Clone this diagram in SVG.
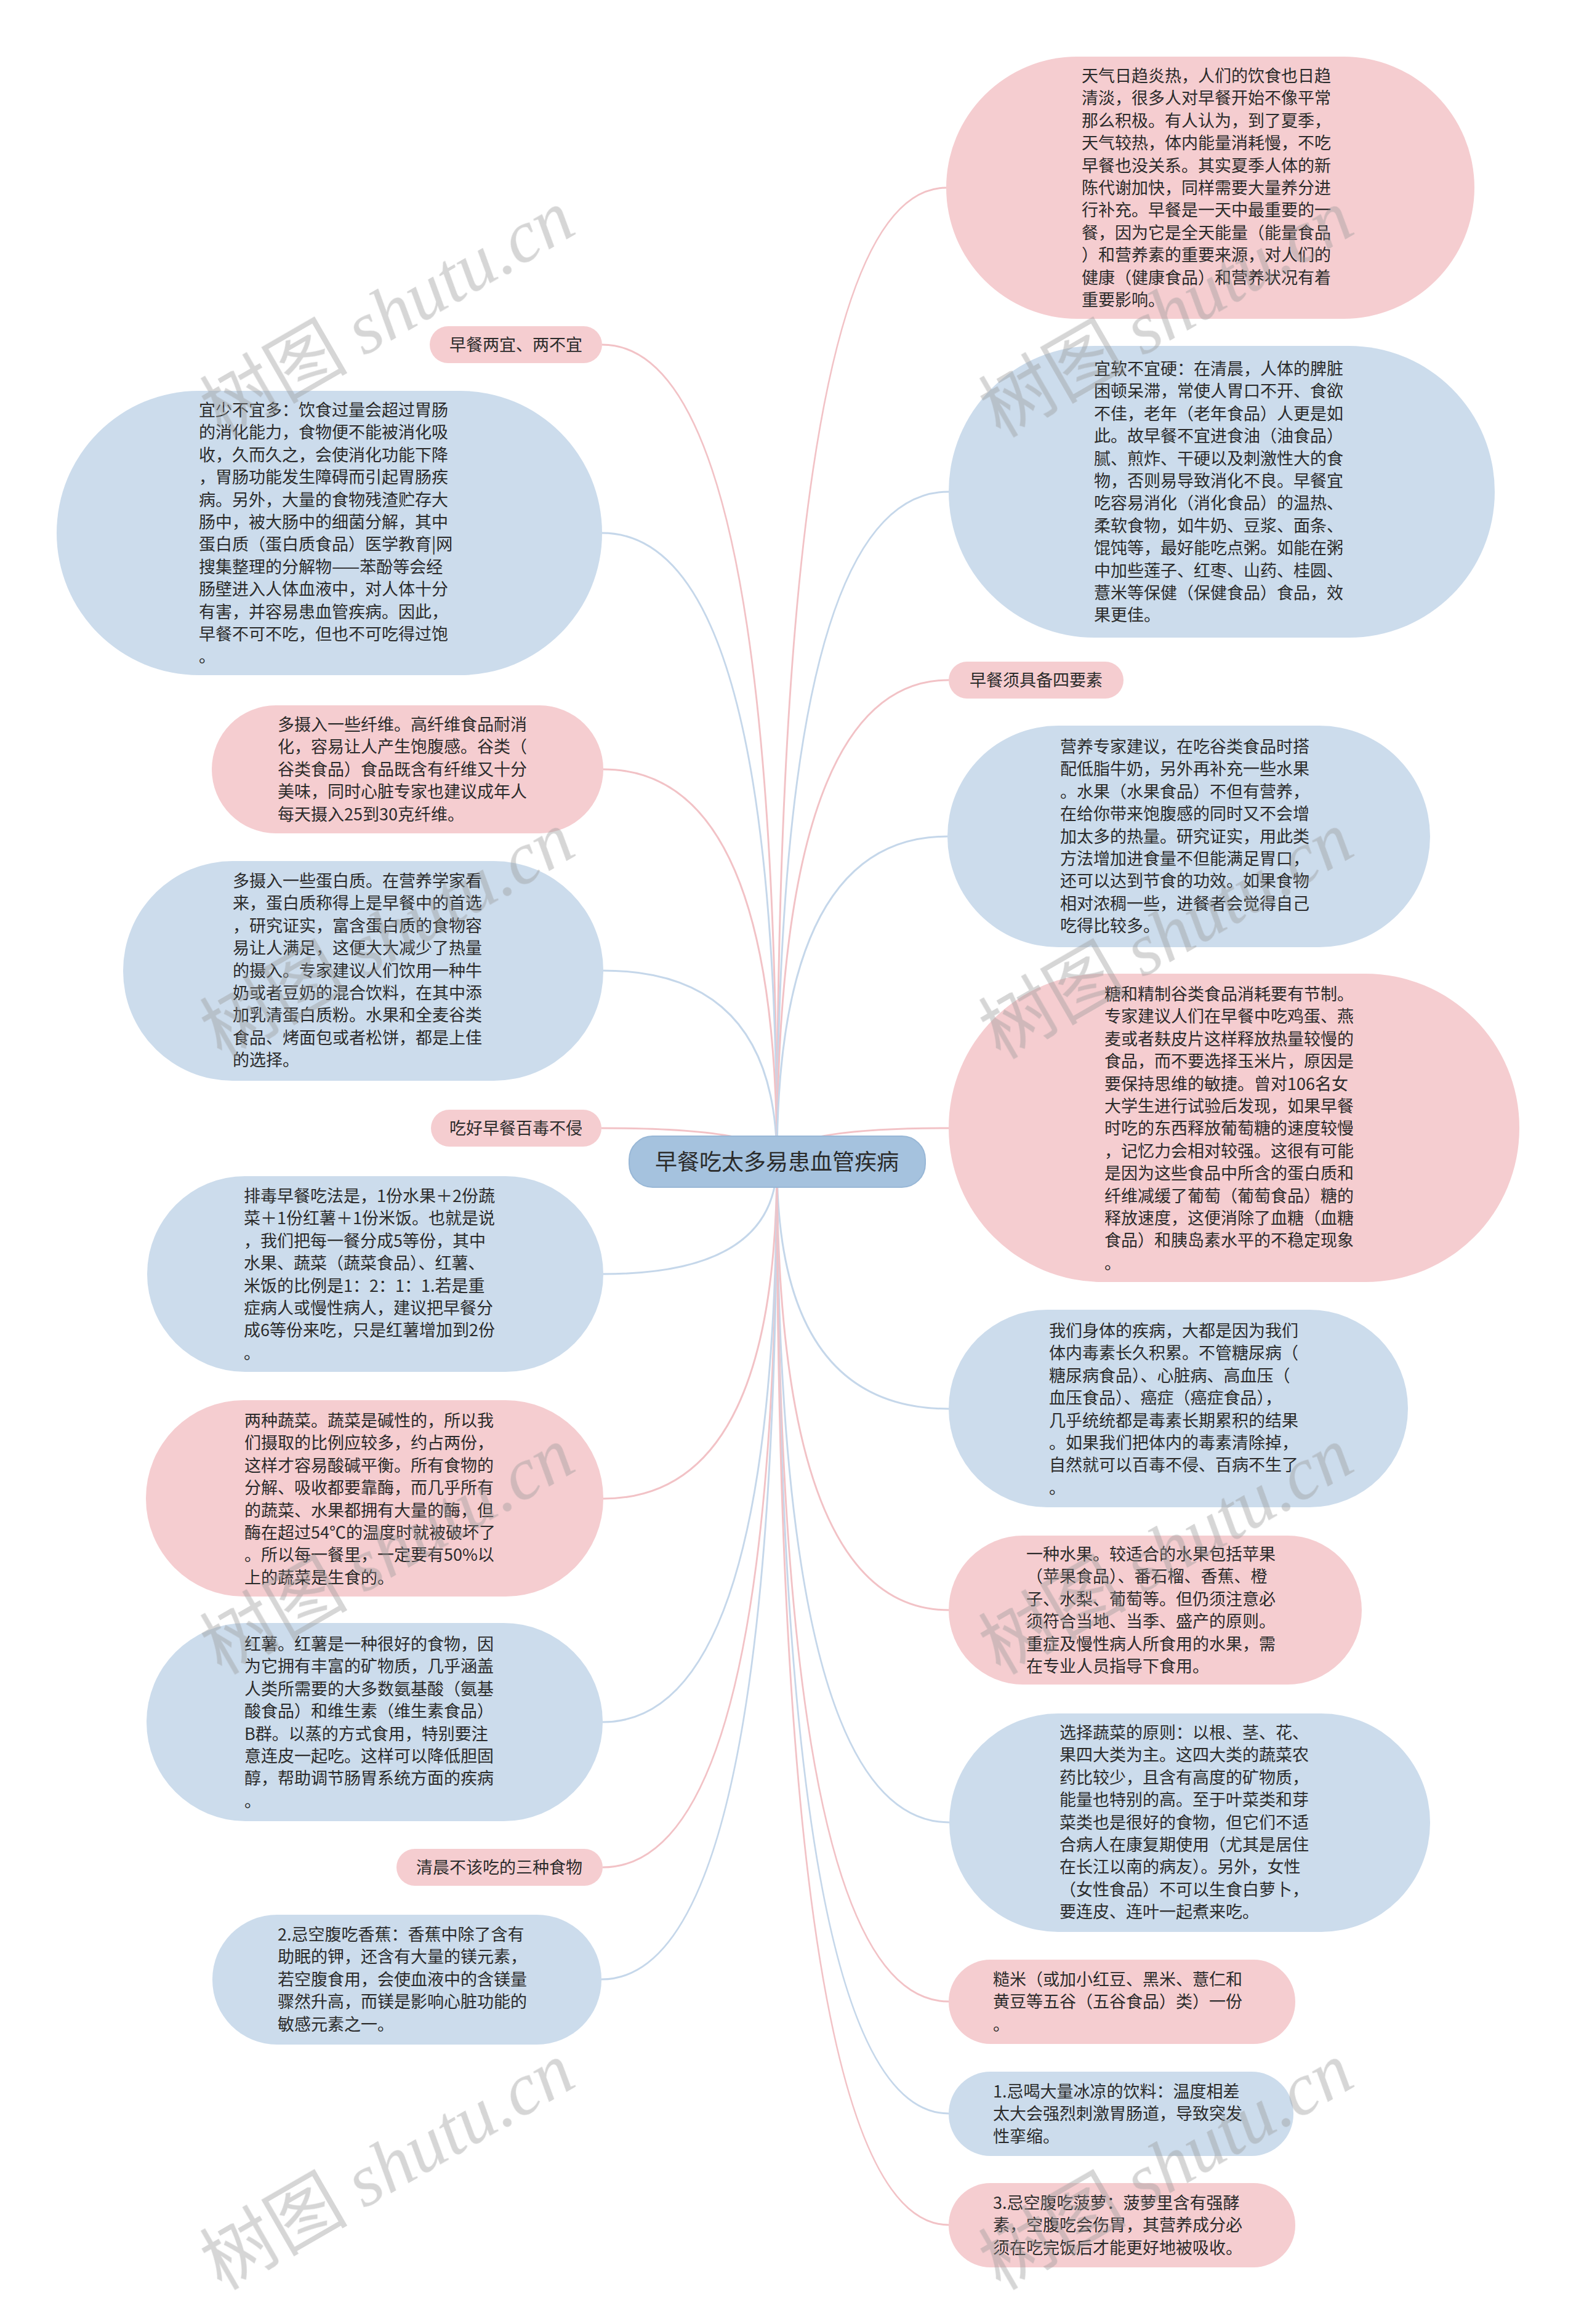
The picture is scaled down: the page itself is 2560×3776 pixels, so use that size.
<svg xmlns="http://www.w3.org/2000/svg" width="2560" height="3776" viewBox="0 0 2560 3776">
<style>
.t{font-family:"Noto Sans CJK SC","Noto Sans",sans-serif;font-size:27px;fill:#2b2b2b}
.lab{text-anchor:middle}
.pk{fill:#f5cdd0}
.bl{fill:#ccdcec}
.cp{fill:none;stroke:#f2c2c6;stroke-width:3}
.cb{fill:none;stroke:#c5d7ea;stroke-width:3}
.wm{font-size:120px;fill:#9a9a9a;opacity:0.4}
.wmc{font-family:"Noto Sans CJK SC",sans-serif}
.wml{font-family:"Liberation Serif",serif;font-style:italic}
</style>
<rect width="2560" height="3776" fill="#ffffff"/>
<g id="connectors">
<path class="cp" d="M1262,1888 Q1262,560 978,560"/>
<path class="cb" d="M1262,1888 Q1262,866 978,866"/>
<path class="cp" d="M1262,1888 Q1262,1250 980,1250"/>
<path class="cb" d="M1262,1888 Q1262,1577 980,1577"/>
<path class="cp" d="M1262,1888 Q1262,1833 977,1833"/>
<path class="cb" d="M1262,1888 Q1262,2070 980,2070"/>
<path class="cp" d="M1262,1888 Q1262,2435 980,2435"/>
<path class="cb" d="M1262,1888 Q1262,2798 979,2798"/>
<path class="cp" d="M1262,1888 Q1262,3034 979,3034"/>
<path class="cb" d="M1262,1888 Q1262,3216 977,3216"/>
<path class="cp" d="M1262,1888 Q1262,305 1537,305"/>
<path class="cb" d="M1262,1888 Q1262,799 1541,799"/>
<path class="cp" d="M1262,1888 Q1262,1105 1541,1105"/>
<path class="cb" d="M1262,1888 Q1262,1359 1539,1359"/>
<path class="cp" d="M1262,1888 Q1262,1833 1541,1833"/>
<path class="cb" d="M1262,1888 Q1262,2289 1541,2289"/>
<path class="cp" d="M1262,1888 Q1262,2616 1541,2616"/>
<path class="cb" d="M1262,1888 Q1262,2961 1542,2961"/>
<path class="cp" d="M1262,1888 Q1262,3252 1541,3252"/>
<path class="cb" d="M1262,1888 Q1262,3434 1541,3434"/>
<path class="cp" d="M1262,1888 Q1262,3615 1541,3615"/>
</g>
<g id="center">
<rect x="1022" y="1846" width="481" height="83" rx="38" fill="#a5c2de" stroke="#98b7d6" stroke-width="2"/>
<text class="t lab" x="1262" y="1901" style="font-size:36px">早餐吃太多易患血管疾病</text>
</g>
<g id="L1">
<rect class="pk" x="698" y="530" width="280" height="60" rx="30"/>
<text class="t lab" x="838" y="570">早餐两宜、两不宜</text>
</g>
<g id="L2">
<rect class="bl" x="92" y="635" width="886" height="462" rx="231"/>
<text class="t" x="323" y="676"><tspan x="323">宜少不宜多：饮食过量会超过胃肠</tspan><tspan x="323" dy="36.4">的消化能力，食物便不能被消化吸</tspan><tspan x="323" dy="36.4">收，久而久之，会使消化功能下降</tspan><tspan x="323" dy="36.4">，胃肠功能发生障碍而引起胃肠疾</tspan><tspan x="323" dy="36.4">病。另外，大量的食物残渣贮存大</tspan><tspan x="323" dy="36.4">肠中，被大肠中的细菌分解，其中</tspan><tspan x="323" dy="36.4">蛋白质（蛋白质食品）医学教育|网</tspan><tspan x="323" dy="36.4">搜集整理的分解物——苯酚等会经</tspan><tspan x="323" dy="36.4">肠壁进入人体血液中，对人体十分</tspan><tspan x="323" dy="36.4">有害，并容易患血管疾病。因此，</tspan><tspan x="323" dy="36.4">早餐不可不吃，但也不可吃得过饱</tspan><tspan x="323" dy="36.4">。</tspan></text>
</g>
<g id="L3">
<rect class="pk" x="344" y="1146" width="636" height="208" rx="104"/>
<text class="t" x="451" y="1187"><tspan x="451">多摄入一些纤维。高纤维食品耐消</tspan><tspan x="451" dy="36.4">化，容易让人产生饱腹感。谷类（</tspan><tspan x="451" dy="36.4">谷类食品）食品既含有纤维又十分</tspan><tspan x="451" dy="36.4">美味，同时心脏专家也建议成年人</tspan><tspan x="451" dy="36.4">每天摄入25到30克纤维。</tspan></text>
</g>
<g id="L4">
<rect class="bl" x="200" y="1399" width="780" height="357" rx="178"/>
<text class="t" x="378" y="1441"><tspan x="378">多摄入一些蛋白质。在营养学家看</tspan><tspan x="378" dy="36.4">来，蛋白质称得上是早餐中的首选</tspan><tspan x="378" dy="36.4">，研究证实，富含蛋白质的食物容</tspan><tspan x="378" dy="36.4">易让人满足，这便大大减少了热量</tspan><tspan x="378" dy="36.4">的摄入。专家建议人们饮用一种牛</tspan><tspan x="378" dy="36.4">奶或者豆奶的混合饮料，在其中添</tspan><tspan x="378" dy="36.4">加乳清蛋白质粉。水果和全麦谷类</tspan><tspan x="378" dy="36.4">食品、烤面包或者松饼，都是上佳</tspan><tspan x="378" dy="36.4">的选择。</tspan></text>
</g>
<g id="L5">
<rect class="pk" x="700" y="1803" width="277" height="60" rx="30"/>
<text class="t lab" x="838" y="1843">吃好早餐百毒不侵</text>
</g>
<g id="L6">
<rect class="bl" x="239" y="1911" width="741" height="318" rx="159"/>
<text class="t" x="396" y="1953"><tspan x="396">排毒早餐吃法是，1份水果＋2份蔬</tspan><tspan x="396" dy="36.4">菜＋1份红薯＋1份米饭。也就是说</tspan><tspan x="396" dy="36.4">，我们把每一餐分成5等份，其中</tspan><tspan x="396" dy="36.4">水果、蔬菜（蔬菜食品）、红薯、</tspan><tspan x="396" dy="36.4">米饭的比例是1：2：1：1.若是重</tspan><tspan x="396" dy="36.4">症病人或慢性病人，建议把早餐分</tspan><tspan x="396" dy="36.4">成6等份来吃，只是红薯增加到2份</tspan><tspan x="396" dy="36.4">。</tspan></text>
</g>
<g id="L7">
<rect class="pk" x="237" y="2275" width="743" height="319" rx="159"/>
<text class="t" x="397" y="2318"><tspan x="397">两种蔬菜。蔬菜是碱性的，所以我</tspan><tspan x="397" dy="36.4">们摄取的比例应较多，约占两份，</tspan><tspan x="397" dy="36.4">这样才容易酸碱平衡。所有食物的</tspan><tspan x="397" dy="36.4">分解、吸收都要靠酶，而几乎所有</tspan><tspan x="397" dy="36.4">的蔬菜、水果都拥有大量的酶，但</tspan><tspan x="397" dy="36.4">酶在超过54℃的温度时就被破坏了</tspan><tspan x="397" dy="36.4">。所以每一餐里，一定要有50%以</tspan><tspan x="397" dy="36.4">上的蔬菜是生食的。</tspan></text>
</g>
<g id="L8">
<rect class="bl" x="238" y="2637" width="741" height="322" rx="161"/>
<text class="t" x="397" y="2681"><tspan x="397">红薯。红薯是一种很好的食物，因</tspan><tspan x="397" dy="36.4">为它拥有丰富的矿物质，几乎涵盖</tspan><tspan x="397" dy="36.4">人类所需要的大多数氨基酸（氨基</tspan><tspan x="397" dy="36.4">酸食品）和维生素（维生素食品）</tspan><tspan x="397" dy="36.4">B群。以蒸的方式食用，特别要注</tspan><tspan x="397" dy="36.4">意连皮一起吃。这样可以降低胆固</tspan><tspan x="397" dy="36.4">醇，帮助调节肠胃系统方面的疾病</tspan><tspan x="397" dy="36.4">。</tspan></text>
</g>
<g id="L9">
<rect class="pk" x="644" y="3004" width="335" height="60" rx="30"/>
<text class="t lab" x="811" y="3044">清晨不该吃的三种食物</text>
</g>
<g id="L10">
<rect class="bl" x="345" y="3111" width="632" height="211" rx="105"/>
<text class="t" x="451" y="3153"><tspan x="451">2.忌空腹吃香蕉：香蕉中除了含有</tspan><tspan x="451" dy="36.4">助眠的钾，还含有大量的镁元素，</tspan><tspan x="451" dy="36.4">若空腹食用，会使血液中的含镁量</tspan><tspan x="451" dy="36.4">骤然升高，而镁是影响心脏功能的</tspan><tspan x="451" dy="36.4">敏感元素之一。</tspan></text>
</g>
<g id="R1">
<rect class="pk" x="1537" y="92" width="858" height="426" rx="213"/>
<text class="t" x="1757" y="133"><tspan x="1757">天气日趋炎热，人们的饮食也日趋</tspan><tspan x="1757" dy="36.4">清淡，很多人对早餐开始不像平常</tspan><tspan x="1757" dy="36.4">那么积极。有人认为，到了夏季，</tspan><tspan x="1757" dy="36.4">天气较热，体内能量消耗慢，不吃</tspan><tspan x="1757" dy="36.4">早餐也没关系。其实夏季人体的新</tspan><tspan x="1757" dy="36.4">陈代谢加快，同样需要大量养分进</tspan><tspan x="1757" dy="36.4">行补充。早餐是一天中最重要的一</tspan><tspan x="1757" dy="36.4">餐，因为它是全天能量（能量食品</tspan><tspan x="1757" dy="36.4">）和营养素的重要来源，对人们的</tspan><tspan x="1757" dy="36.4">健康（健康食品）和营养状况有着</tspan><tspan x="1757" dy="36.4">重要影响。</tspan></text>
</g>
<g id="R2">
<rect class="bl" x="1541" y="562" width="887" height="474" rx="237"/>
<text class="t" x="1777" y="609"><tspan x="1777">宜软不宜硬：在清晨，人体的脾脏</tspan><tspan x="1777" dy="36.4">困顿呆滞，常使人胃口不开、食欲</tspan><tspan x="1777" dy="36.4">不佳，老年（老年食品）人更是如</tspan><tspan x="1777" dy="36.4">此。故早餐不宜进食油（油食品）</tspan><tspan x="1777" dy="36.4">腻、煎炸、干硬以及刺激性大的食</tspan><tspan x="1777" dy="36.4">物，否则易导致消化不良。早餐宜</tspan><tspan x="1777" dy="36.4">吃容易消化（消化食品）的温热、</tspan><tspan x="1777" dy="36.4">柔软食物，如牛奶、豆浆、面条、</tspan><tspan x="1777" dy="36.4">馄饨等，最好能吃点粥。如能在粥</tspan><tspan x="1777" dy="36.4">中加些莲子、红枣、山药、桂圆、</tspan><tspan x="1777" dy="36.4">薏米等保健（保健食品）食品，效</tspan><tspan x="1777" dy="36.4">果更佳。</tspan></text>
</g>
<g id="R3">
<rect class="pk" x="1541" y="1075" width="284" height="60" rx="30"/>
<text class="t lab" x="1683" y="1115">早餐须具备四要素</text>
</g>
<g id="R4">
<rect class="bl" x="1539" y="1179" width="784" height="360" rx="180"/>
<text class="t" x="1722" y="1223"><tspan x="1722">营养专家建议，在吃谷类食品时搭</tspan><tspan x="1722" dy="36.4">配低脂牛奶，另外再补充一些水果</tspan><tspan x="1722" dy="36.4">。水果（水果食品）不但有营养，</tspan><tspan x="1722" dy="36.4">在给你带来饱腹感的同时又不会增</tspan><tspan x="1722" dy="36.4">加太多的热量。研究证实，用此类</tspan><tspan x="1722" dy="36.4">方法增加进食量不但能满足胃口，</tspan><tspan x="1722" dy="36.4">还可以达到节食的功效。如果食物</tspan><tspan x="1722" dy="36.4">相对浓稠一些，进餐者会觉得自己</tspan><tspan x="1722" dy="36.4">吃得比较多。</tspan></text>
</g>
<g id="R5">
<rect class="pk" x="1541" y="1582" width="927" height="501" rx="250"/>
<text class="t" x="1794" y="1625"><tspan x="1794">糖和精制谷类食品消耗要有节制。</tspan><tspan x="1794" dy="36.4">专家建议人们在早餐中吃鸡蛋、燕</tspan><tspan x="1794" dy="36.4">麦或者麸皮片这样释放热量较慢的</tspan><tspan x="1794" dy="36.4">食品，而不要选择玉米片，原因是</tspan><tspan x="1794" dy="36.4">要保持思维的敏捷。曾对106名女</tspan><tspan x="1794" dy="36.4">大学生进行试验后发现，如果早餐</tspan><tspan x="1794" dy="36.4">时吃的东西释放葡萄糖的速度较慢</tspan><tspan x="1794" dy="36.4">，记忆力会相对较强。这很有可能</tspan><tspan x="1794" dy="36.4">是因为这些食品中所含的蛋白质和</tspan><tspan x="1794" dy="36.4">纤维减缓了葡萄（葡萄食品）糖的</tspan><tspan x="1794" dy="36.4">释放速度，这便消除了血糖（血糖</tspan><tspan x="1794" dy="36.4">食品）和胰岛素水平的不稳定现象</tspan><tspan x="1794" dy="36.4">。</tspan></text>
</g>
<g id="R6">
<rect class="bl" x="1541" y="2128" width="746" height="321" rx="160"/>
<text class="t" x="1704" y="2172"><tspan x="1704">我们身体的疾病，大都是因为我们</tspan><tspan x="1704" dy="36.4">体内毒素长久积累。不管糖尿病（</tspan><tspan x="1704" dy="36.4">糖尿病食品）、心脏病、高血压（</tspan><tspan x="1704" dy="36.4">血压食品）、癌症（癌症食品），</tspan><tspan x="1704" dy="36.4">几乎统统都是毒素长期累积的结果</tspan><tspan x="1704" dy="36.4">。如果我们把体内的毒素清除掉，</tspan><tspan x="1704" dy="36.4">自然就可以百毒不侵、百病不生了</tspan><tspan x="1704" dy="36.4">。</tspan></text>
</g>
<g id="R7">
<rect class="pk" x="1541" y="2495" width="671" height="242" rx="121"/>
<text class="t" x="1667" y="2535"><tspan x="1667">一种水果。较适合的水果包括苹果</tspan><tspan x="1667" dy="36.4">（苹果食品）、番石榴、香蕉、橙</tspan><tspan x="1667" dy="36.4">子、水梨、葡萄等。但仍须注意必</tspan><tspan x="1667" dy="36.4">须符合当地、当季、盛产的原则。</tspan><tspan x="1667" dy="36.4">重症及慢性病人所食用的水果，需</tspan><tspan x="1667" dy="36.4">在专业人员指导下食用。</tspan></text>
</g>
<g id="R8">
<rect class="bl" x="1542" y="2784" width="781" height="355" rx="177"/>
<text class="t" x="1721" y="2825"><tspan x="1721">选择蔬菜的原则：以根、茎、花、</tspan><tspan x="1721" dy="36.4">果四大类为主。这四大类的蔬菜农</tspan><tspan x="1721" dy="36.4">药比较少，且含有高度的矿物质，</tspan><tspan x="1721" dy="36.4">能量也特别的高。至于叶菜类和芽</tspan><tspan x="1721" dy="36.4">菜类也是很好的食物，但它们不适</tspan><tspan x="1721" dy="36.4">合病人在康复期使用（尤其是居住</tspan><tspan x="1721" dy="36.4">在长江以南的病友）。另外，女性</tspan><tspan x="1721" dy="36.4">（女性食品）不可以生食白萝卜，</tspan><tspan x="1721" dy="36.4">要连皮、连叶一起煮来吃。</tspan></text>
</g>
<g id="R9">
<rect class="pk" x="1541" y="3184" width="563" height="137" rx="68"/>
<text class="t" x="1613" y="3226"><tspan x="1613">糙米（或加小红豆、黑米、薏仁和</tspan><tspan x="1613" dy="36.4">黄豆等五谷（五谷食品）类）一份</tspan><tspan x="1613" dy="36.4">。</tspan></text>
</g>
<g id="R10">
<rect class="bl" x="1541" y="3366" width="560" height="137" rx="68"/>
<text class="t" x="1613" y="3408"><tspan x="1613">1.忌喝大量冰凉的饮料：温度相差</tspan><tspan x="1613" dy="36.4">太大会强烈刺激胃肠道，导致突发</tspan><tspan x="1613" dy="36.4">性挛缩。</tspan></text>
</g>
<g id="R11">
<rect class="pk" x="1541" y="3547" width="563" height="137" rx="68"/>
<text class="t" x="1613" y="3589"><tspan x="1613">3.忌空腹吃菠萝：菠萝里含有强酵</tspan><tspan x="1613" dy="36.4">素，空腹吃会伤胃，其营养成分必</tspan><tspan x="1613" dy="36.4">须在吃完饭后才能更好地被吸收。</tspan></text>
</g>
<g id="watermarks" class="wm">
<text text-anchor="middle" transform="translate(650,545) rotate(-30)"><tspan class="wmc">树图 </tspan><tspan class="wml">shutu.cn</tspan></text>
<text text-anchor="middle" transform="translate(650,1555) rotate(-30)"><tspan class="wmc">树图 </tspan><tspan class="wml">shutu.cn</tspan></text>
<text text-anchor="middle" transform="translate(650,2555) rotate(-30)"><tspan class="wmc">树图 </tspan><tspan class="wml">shutu.cn</tspan></text>
<text text-anchor="middle" transform="translate(650,3555) rotate(-30)"><tspan class="wmc">树图 </tspan><tspan class="wml">shutu.cn</tspan></text>
<text text-anchor="middle" transform="translate(1915,545) rotate(-30)"><tspan class="wmc">树图 </tspan><tspan class="wml">shutu.cn</tspan></text>
<text text-anchor="middle" transform="translate(1915,1555) rotate(-30)"><tspan class="wmc">树图 </tspan><tspan class="wml">shutu.cn</tspan></text>
<text text-anchor="middle" transform="translate(1915,2555) rotate(-30)"><tspan class="wmc">树图 </tspan><tspan class="wml">shutu.cn</tspan></text>
<text text-anchor="middle" transform="translate(1915,3555) rotate(-30)"><tspan class="wmc">树图 </tspan><tspan class="wml">shutu.cn</tspan></text>
</g>
</svg>
